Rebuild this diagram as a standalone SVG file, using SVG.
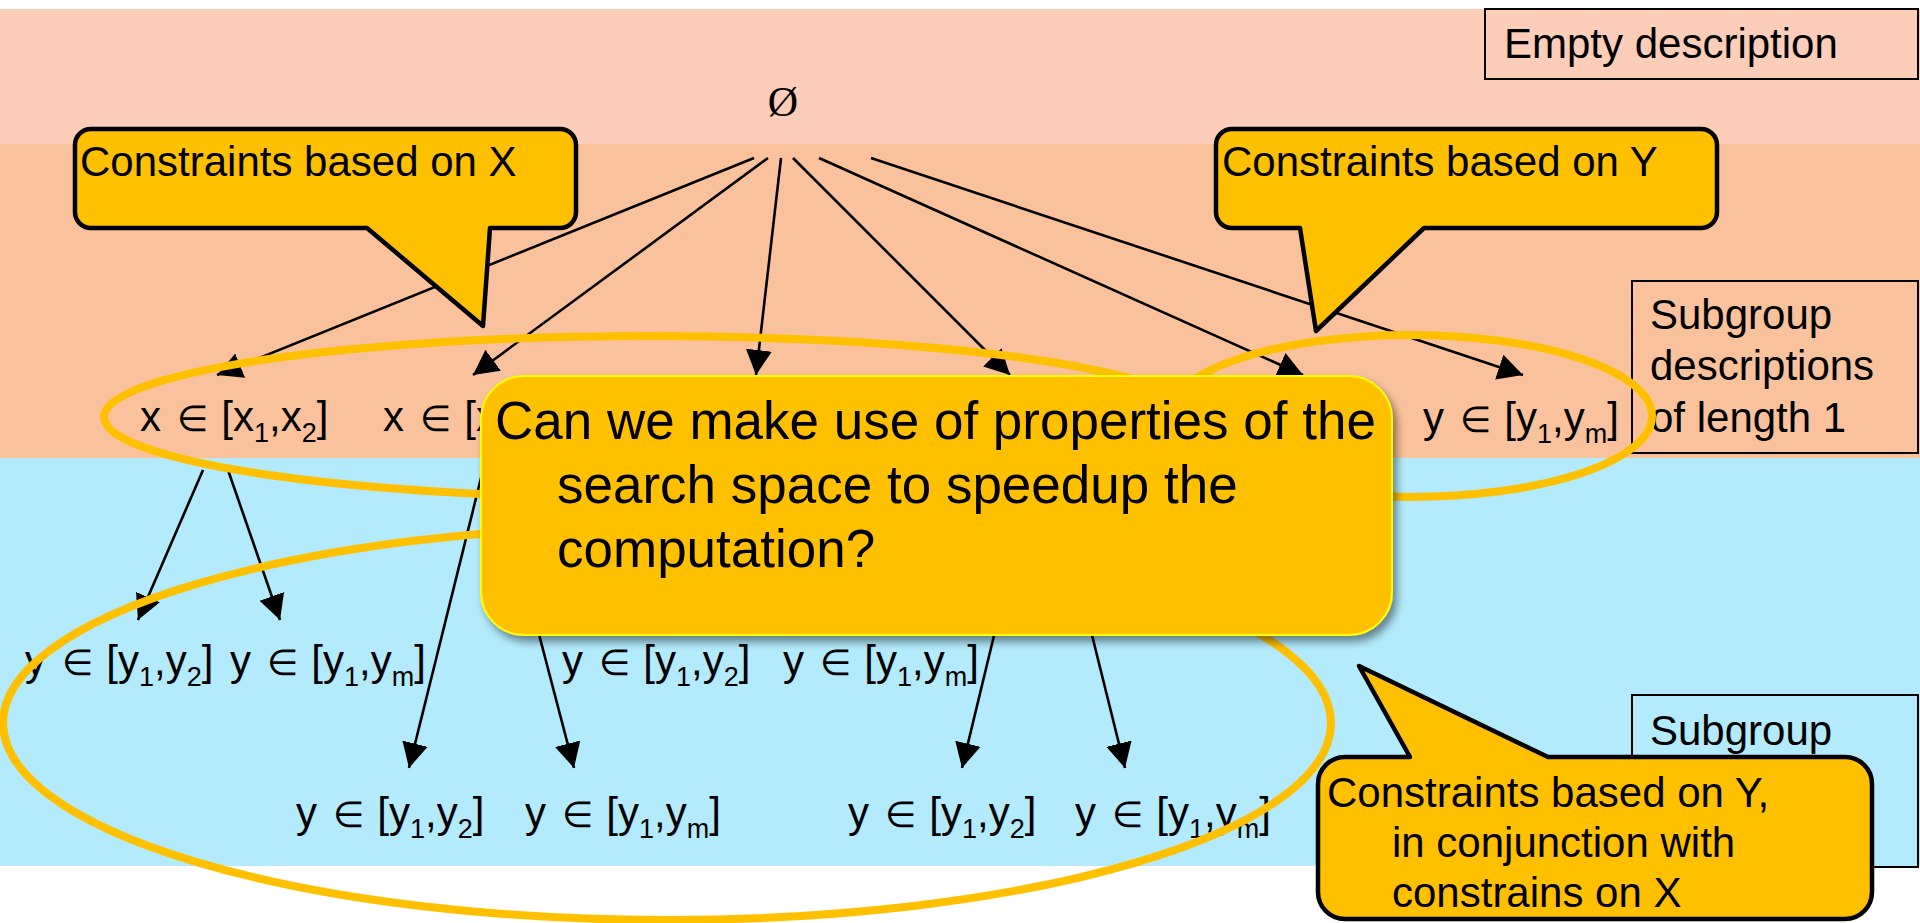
<svg xmlns="http://www.w3.org/2000/svg" width="1920" height="923" viewBox="0 0 1920 923">
<style>
text{font-family:"Liberation Sans",Arial,"DejaVu Sans",sans-serif;fill:#000}
.lbl{font-size:42px}
.sb{font-size:27px}
.el{font-family:"DejaVu Sans",sans-serif;font-weight:200;font-size:36px}
.big{font-size:53px}
.edge{stroke:#000;stroke-width:2.6;fill:none;marker-end:url(#ah)}
.ell{fill:none;stroke:#FFC000;stroke-width:8}
.box{fill:none;stroke:#000;stroke-width:2}
.call{fill:#FFC000;stroke:#000;stroke-width:4.5;stroke-linejoin:round}
</style>
<defs>
<marker id="ah" markerUnits="userSpaceOnUse" markerWidth="26" markerHeight="28" refX="25" refY="13" orient="auto" viewBox="0 0 26 26">
<path d="M0,0 L25,13 L0,26 Z" fill="#000"/>
</marker>
<filter id="sh" x="-5%" y="-5%" width="115%" height="125%">
<feGaussianBlur in="SourceAlpha" stdDeviation="4"/>
<feOffset dx="4" dy="6" result="b"/>
<feComponentTransfer><feFuncA type="linear" slope="0.45"/></feComponentTransfer>
<feMerge><feMergeNode/><feMergeNode in="SourceGraphic"/></feMerge>
</filter>
</defs>
<g id="background">
<rect x="0" y="0" width="1920" height="923" fill="#FFFFFF"/>
<rect x="0" y="9" width="1920" height="135" fill="#FCCEBA"/>
<rect x="0" y="144" width="1920" height="314" fill="#FAC29C"/>
<rect x="0" y="458" width="1920" height="408" fill="#B3EBFC"/>
</g>
<g id="legend-empty"><rect class="box" x="1485" y="9" width="433" height="70"/><text class="lbl" x="1504" y="58">Empty description</text></g>
<g id="legend-len1"><rect class="box" x="1632" y="281" width="286" height="172"/><text class="lbl" x="1650" y="329">Subgroup</text><text class="lbl" x="1650" y="380">descriptions</text><text class="lbl" x="1650" y="432">of length 1</text></g>
<g id="legend-len2"><rect class="box" x="1632" y="695" width="286" height="172"/><text class="lbl" x="1650" y="745">Subgroup</text><text class="lbl" x="1650" y="797">descriptions</text></g>
<g id="connectors">
<line class="edge" x1="754" y1="158" x2="217" y2="375"/>
<line class="edge" x1="768" y1="158" x2="473" y2="375"/>
<line class="edge" x1="781" y1="158" x2="756" y2="375"/>
<line class="edge" x1="793" y1="158" x2="1010" y2="375"/>
<line class="edge" x1="819" y1="158" x2="1303" y2="375"/>
<line class="edge" x1="871" y1="158" x2="1523" y2="375"/>
<line class="edge" x1="203" y1="470" x2="138" y2="620"/>
<line class="edge" x1="228" y1="470" x2="280" y2="620"/>
<line class="edge" x1="483" y1="470" x2="409" y2="768"/>
<line class="edge" x1="496" y1="470" x2="574" y2="768"/>
<line class="edge" x1="750" y1="470" x2="650" y2="620"/>
<line class="edge" x1="770" y1="470" x2="870" y2="620"/>
<line class="edge" x1="1034" y1="470" x2="962" y2="768"/>
<line class="edge" x1="1051" y1="470" x2="1125" y2="768"/>
</g>
<g id="n-root"><text x="783" y="116" font-size="42" text-anchor="middle" style="font-family:'Liberation Serif',serif">Ø</text></g>
<g id="n-x12"><text class="lbl" x="140" y="431">x <tspan class="el" dx="4">∈</tspan><tspan dx="2"> [x</tspan><tspan class="sb" dy="11">1</tspan><tspan dy="-11">,x</tspan><tspan class="sb" dy="11">2</tspan><tspan dy="-11">]</tspan></text></g>
<g id="n-x1b"><text class="lbl" x="383" y="431">x <tspan class="el" dx="4">∈</tspan><tspan dx="2"> [x</tspan></text></g>
<g id="n-y1m"><text class="lbl" x="1423" y="432">y <tspan class="el" dx="4">∈</tspan><tspan dx="2"> [y</tspan><tspan class="sb" dy="11">1</tspan><tspan dy="-11">,y</tspan><tspan class="sb" dy="11">m</tspan><tspan dy="-11">]</tspan></text></g>
<g id="n-a1"><text class="lbl" x="25" y="675">y <tspan class="el" dx="4">∈</tspan><tspan dx="2"> [y</tspan><tspan class="sb" dy="11">1</tspan><tspan dy="-11">,y</tspan><tspan class="sb" dy="11">2</tspan><tspan dy="-11">]</tspan></text></g>
<g id="n-a2"><text class="lbl" x="230" y="675">y <tspan class="el" dx="4">∈</tspan><tspan dx="2"> [y</tspan><tspan class="sb" dy="11">1</tspan><tspan dy="-11">,y</tspan><tspan class="sb" dy="11">m</tspan><tspan dy="-11">]</tspan></text></g>
<g id="n-c1"><text class="lbl" x="562" y="675">y <tspan class="el" dx="4">∈</tspan><tspan dx="2"> [y</tspan><tspan class="sb" dy="11">1</tspan><tspan dy="-11">,y</tspan><tspan class="sb" dy="11">2</tspan><tspan dy="-11">]</tspan></text></g>
<g id="n-c2"><text class="lbl" x="783" y="675">y <tspan class="el" dx="4">∈</tspan><tspan dx="2"> [y</tspan><tspan class="sb" dy="11">1</tspan><tspan dy="-11">,y</tspan><tspan class="sb" dy="11">m</tspan><tspan dy="-11">]</tspan></text></g>
<g id="n-b1"><text class="lbl" x="296" y="827">y <tspan class="el" dx="4">∈</tspan><tspan dx="2"> [y</tspan><tspan class="sb" dy="11">1</tspan><tspan dy="-11">,y</tspan><tspan class="sb" dy="11">2</tspan><tspan dy="-11">]</tspan></text></g>
<g id="n-b2"><text class="lbl" x="525" y="827">y <tspan class="el" dx="4">∈</tspan><tspan dx="2"> [y</tspan><tspan class="sb" dy="11">1</tspan><tspan dy="-11">,y</tspan><tspan class="sb" dy="11">m</tspan><tspan dy="-11">]</tspan></text></g>
<g id="n-d1"><text class="lbl" x="848" y="827">y <tspan class="el" dx="4">∈</tspan><tspan dx="2"> [y</tspan><tspan class="sb" dy="11">1</tspan><tspan dy="-11">,y</tspan><tspan class="sb" dy="11">2</tspan><tspan dy="-11">]</tspan></text></g>
<g id="n-d2"><text class="lbl" x="1075" y="827">y <tspan class="el" dx="4">∈</tspan><tspan dx="2"> [y</tspan><tspan class="sb" dy="11">1</tspan><tspan dy="-11">,y</tspan><tspan class="sb" dy="11">m</tspan><tspan dy="-11">]</tspan></text></g>
<g id="ellipses">
<ellipse class="ell" cx="650" cy="417" rx="546" ry="81"/>
<ellipse class="ell" cx="1410" cy="416" rx="242" ry="81"/>
<ellipse class="ell" cx="667" cy="723" rx="664" ry="197"/>
</g>
<g id="callout-x"><path class="call" d="M91,129 H560 A16,16 0 0 1 576,145 V212 A16,16 0 0 1 560,228 H490 L483,326 L367,228 H91 A16,16 0 0 1 75,212 V145 A16,16 0 0 1 91,129 Z"/><text class="lbl" x="80" y="176">Constraints based on X</text></g>
<g id="callout-y"><path class="call" d="M1232,129 H1701 A16,16 0 0 1 1717,145 V212 A16,16 0 0 1 1701,228 H1424 L1316,331 L1300,228 H1232 A16,16 0 0 1 1216,212 V145 A16,16 0 0 1 1232,129 Z"/><text class="lbl" x="1222" y="176">Constraints based on Y</text></g>
<g id="callout-question"><rect x="481" y="376" width="911" height="259" rx="43" ry="43" fill="#FFC000" stroke="#FFFF00" stroke-width="2" filter="url(#sh)"/>
<text class="big" x="495" y="439">Can we make use of properties of the</text>
<text class="big" x="557" y="503">search space to speedup the</text>
<text class="big" x="557" y="567">computation?</text></g>
<g id="callout-xy"><path class="call" d="M1345,757 H1410 L1359,666 L1548,757 H1845 A27,27 0 0 1 1872,784 V892 A27,27 0 0 1 1845,919 H1345 A27,27 0 0 1 1318,892 V784 A27,27 0 0 1 1345,757 Z"/>
<text class="lbl" x="1327" y="807">Constraints based on Y,</text>
<text class="lbl" x="1392" y="857">in conjunction with</text>
<text class="lbl" x="1392" y="907">constrains on X</text></g>
</svg>
